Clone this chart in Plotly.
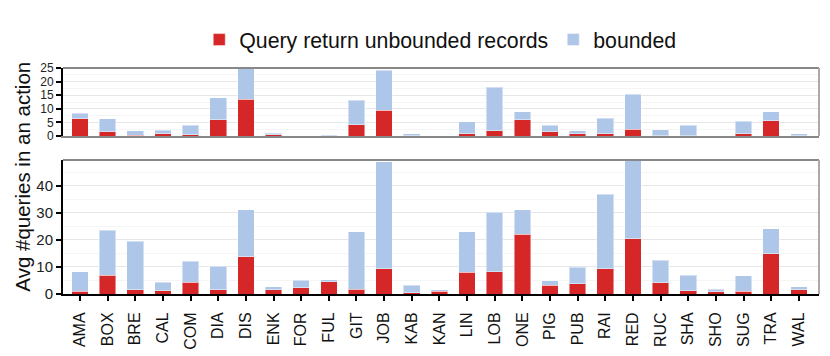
import plotly.graph_objects as go

categories = ["AMA", "BOX", "BRE", "CAL", "COM", "DIA", "DIS", "ENK", "FOR", "FUL",
              "GIT", "JOB", "KAB", "KAN", "LIN", "LOB", "ONE", "PIG", "PUB", "RAI",
              "RED", "RUC", "SHA", "SHO", "SUG", "TRA", "WAL"]

# top panel
top_unbounded = [6.4, 1.5, 0.2, 0.75, 0.5, 6.0, 13.5, 0.5, 0.0, 0.05,
                 4.1, 9.4, 0.05, 0.0, 0.75, 2.0, 6.0, 1.6, 0.9, 0.9,
                 2.5, 0.05, 0.05, 0.0, 0.75, 5.6, 0.05]
top_bounded = [2.0, 4.9, 1.8, 1.35, 3.5, 8.0, 12.0, 0.6, 0.0, 0.2,
               9.0, 14.7, 0.7, 0.0, 4.5, 16.0, 3.0, 2.4, 1.0, 5.6,
               12.9, 2.2, 3.95, 0.0, 4.75, 3.3, 0.7]

# bottom panel
bot_unbounded = [1.0, 6.9, 1.6, 1.2, 4.4, 1.5, 13.7, 1.6, 2.35, 4.6,
                 1.7, 9.4, 0.5, 1.0, 8.1, 8.3, 22.2, 3.2, 3.8, 9.3,
                 20.4, 4.2, 1.2, 0.9, 1.1, 14.9, 1.6]
bot_bounded = [7.15, 16.7, 17.9, 3.1, 7.7, 8.7, 17.5, 1.0, 2.75, 0.7,
               21.3, 39.5, 2.7, 0.6, 15.0, 21.9, 8.9, 1.7, 6.1, 27.7,
               30.0, 8.3, 5.8, 0.8, 5.7, 9.2, 1.0]

top_ticks = [0, 5, 10, 15, 20, 25]
bot_ticks = [0, 10, 20, 30, 40]

RED = "#d62728"
BLUE = "#aec7e8"
FONT = "Liberation Sans"

fig = go.Figure()

def add(y, name, color, xa, ya, show):
    fig.add_trace(go.Bar(
        x=categories, y=y, name=name, xaxis=xa, yaxis=ya,
        marker=dict(color=color, line=dict(color="rgba(255,255,255,0.45)", width=1)),
        width=0.6, legendgroup=name, showlegend=show,
    ))

add(bot_unbounded, "Query return unbounded records", RED, "x", "y", True)
add(bot_bounded, "bounded", BLUE, "x", "y", True)
add(top_unbounded, "Query return unbounded records", RED, "x2", "y2", False)
add(top_bounded, "bounded", BLUE, "x2", "y2", False)

xr = [-0.614, 26.73]
bot_dom = [0, 0.593]
top_dom = [0.699, 1]

fig.update_layout(
    width=830, height=356,
    margin=dict(l=63, r=10.5, t=68, b=62, autoexpand=False),
    barmode="stack",
    plot_bgcolor="white", paper_bgcolor="white",
    font=dict(family=FONT, size=15, color="#222"),
    legend=dict(orientation="h", x=0.499, xanchor="center", y=1.125, yanchor="middle",
                font=dict(size=21.3, color="#111"), traceorder="normal",
                itemwidth=30, tracegroupgap=0, bgcolor="rgba(0,0,0,0)"),
    xaxis=dict(domain=[0, 1], anchor="y", range=xr, type="category", automargin=False,
               showline=True, linecolor="black", linewidth=2,
               ticks="outside", ticklen=5, tickcolor="black", tickwidth=2,
               tickangle=-90, tickfont=dict(size=16, color="#111"),
               ticklabelstandoff=5, showgrid=False),
    yaxis=dict(domain=bot_dom, anchor="x", range=[0, 49.6], automargin=False,
               tickvals=bot_ticks, showline=True, linecolor="black", linewidth=2,
               ticks="outside", ticklen=5, tickcolor="black", tickwidth=2,
               tickfont=dict(size=15, color="#222"),
               showgrid=True, gridcolor="#e6e6e6", gridwidth=1, zeroline=False,
               minor=dict(dtick=5, tick0=5, showgrid=True, gridcolor="#f5f5f5", ticks="")),
    xaxis2=dict(domain=[0, 1], anchor="y2", range=xr, type="category", matches="x",
                automargin=False,
                showline=True, linecolor="#888", linewidth=2, showticklabels=False,
                ticks="", showgrid=False),
    yaxis2=dict(domain=top_dom, anchor="x2", range=[0, 25], automargin=False,
                tickvals=top_ticks, showline=True, linecolor="black", linewidth=2,
                ticks="outside", ticklen=5, tickcolor="black", tickwidth=2,
                tickfont=dict(size=12, color="#222"),
                showgrid=True, gridcolor="#e6e6e6", gridwidth=1, zeroline=False,
                minor=dict(dtick=2.5, tick0=2.5, showgrid=True, gridcolor="#f5f5f5", ticks="")),
)

# gray top/right borders
for yref in ["y domain", "y2 domain"]:
    fig.add_shape(type="line", xref="paper", yref=yref, x0=0, x1=1, y0=1, y1=1,
                  line=dict(color="#888", width=2))
    fig.add_shape(type="line", xref="paper", yref=yref, x0=1, x1=1, y0=0, y1=1,
                  line=dict(color="#aaa", width=2))

fig.add_annotation(text="Avg #queries in an action", xref="paper", yref="paper",
                   x=-0.054, y=0.52, xanchor="center", yanchor="middle",
                   textangle=-90, showarrow=False, font=dict(size=20.5, color="#111"))

fig.write_html("out.html", config={"displayModeBar": False},
               post_script="document.body.style.margin='0';")
